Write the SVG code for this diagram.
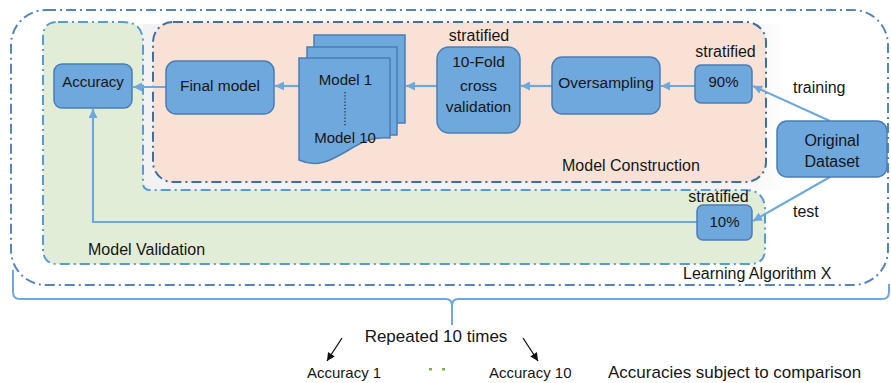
<svg xmlns="http://www.w3.org/2000/svg" width="891" height="383" viewBox="0 0 891 383">
  <defs>
    <style>
      .t { font-family: "Liberation Sans", Arial, sans-serif; fill: #161616; }
      .node { fill: #6FA8DC; stroke: #4A7EB5; stroke-width: 1.5; }
      .conn { fill: none; stroke: #6FA8DC; stroke-width: 2.2; marker-end: url(#ah); }
      .blk { fill: none; stroke: #111; stroke-width: 1.3; marker-end: url(#bh); }
      .dd { stroke-width: 2; stroke-dasharray: 10 4 2 4; }
    </style>
    <marker id="ah" viewBox="0 0 10 10" refX="10" refY="5" markerUnits="userSpaceOnUse" markerWidth="9" markerHeight="9" orient="auto">
      <path d="M0,0 L10,5 L0,10 Z" fill="#6FA8DC"/>
    </marker>
    <marker id="bh" viewBox="0 0 10 10" refX="10" refY="5" markerUnits="userSpaceOnUse" markerWidth="9" markerHeight="8" orient="auto">
      <path d="M0,0 L10,5 L0,10 Z" fill="#111"/>
    </marker>
    <linearGradient id="gr" x1="0" y1="0" x2="1" y2="0">
      <stop offset="0" stop-color="#f2f2f2"/>
      <stop offset="0.9" stop-color="#f2f2f2"/>
      <stop offset="1" stop-color="#ffffff"/>
    </linearGradient>
  </defs>

  <rect width="891" height="383" fill="#ffffff"/>

  <!-- Learning Algorithm X container -->
  <g id="learning-algorithm">
    <rect x="11" y="10" width="877" height="275" rx="35" fill="#ffffff" stroke="#5585BC" class="dd"/>
    <text class="t" x="683" y="279" font-size="16" fill="#333">Learning Algorithm X</text>
  </g>

  <!-- Model Validation container -->
  <g id="model-validation">
    <path d="M143,24 H790 V190 H143 Z" fill="url(#gr)"/>
    <path d="M58,22 H123 Q143,22 143,42 V183 Q143,190 150,190 H745 Q765,190 765,210 V249 Q765,264 750,264 H58 Q43,264 43,249 V37 Q43,22 58,22 Z" fill="#E2EDD8" stroke="#5B9BD5" class="dd"/>
    <text class="t" x="88" y="255" font-size="16" fill="#2b2b2b">Model Validation</text>
  </g>

  <!-- Model Construction container -->
  <g id="model-construction">
    <rect x="153" y="22" width="613" height="160" rx="20" fill="#F9E2D5" stroke="#3E6F9F" class="dd"/>
    <text class="t" x="562" y="171" font-size="16">Model Construction</text>
  </g>

  <!-- connectors -->
  <g id="connectors">
    <path class="conn" d="M830,121 L753,86"/>
    <path class="conn" d="M830,177 L753,221"/>
    <path class="conn" d="M695,86 H661"/>
    <path class="conn" d="M552,86 H521"/>
    <path class="conn" d="M437,86 H406"/>
    <path class="conn" d="M299,86 H275"/>
    <path class="conn" d="M166,87 H133"/>
    <path class="conn" d="M697,222 H93 V109"/>
    <path class="blk" d="M342,338 L327,361"/>
    <path class="blk" d="M523,338 L538,361"/>
  </g>

  <g id="accuracy">
    <rect class="node" x="54" y="64" width="78" height="44" rx="8"/>
    <text class="t" x="93" y="87" font-size="15" text-anchor="middle">Accuracy</text>
  </g>

  <g id="final-model">
    <rect class="node" x="166" y="61" width="108" height="53" rx="10"/>
    <text class="t" x="220" y="91" font-size="15.5" text-anchor="middle">Final model</text>
  </g>

  <g id="models">
    <rect class="node" x="314" y="35" width="91" height="88"/>
    <rect class="node" x="307" y="47" width="90" height="88"/>
    <path class="node" d="M299,58 H390 V138 C372,136 360,143 347,151 C333,159 318,169 299,160 Z"/>
    <text class="t" x="345.5" y="85" font-size="15" text-anchor="middle">Model 1</text>
    <line x1="345" y1="92" x2="345" y2="127" stroke="#222" stroke-width="1.2" stroke-dasharray="1.2 2"/>
    <text class="t" x="345" y="143" font-size="15" text-anchor="middle">Model 10</text>
  </g>

  <g id="cross-validation">
    <text class="t" x="479" y="41" font-size="16" text-anchor="middle">stratified</text>
    <rect class="node" x="437" y="47" width="83" height="86" rx="12"/>
    <text class="t" x="478.5" y="67" font-size="15.5" text-anchor="middle">10-Fold</text>
    <text class="t" x="478.5" y="91" font-size="15.5" text-anchor="middle">cross</text>
    <text class="t" x="478.5" y="112" font-size="15.5" text-anchor="middle">validation</text>
  </g>

  <g id="oversampling">
    <rect class="node" x="552" y="57" width="108" height="57" rx="10"/>
    <text class="t" x="606" y="88" font-size="15.5" text-anchor="middle">Oversampling</text>
  </g>

  <g id="train-90">
    <text class="t" x="725.5" y="57" font-size="16" text-anchor="middle">stratified</text>
    <rect class="node" x="695" y="65" width="57" height="38" rx="6"/>
    <text class="t" x="723.5" y="87" font-size="15" text-anchor="middle">90%</text>
  </g>

  <g id="test-10">
    <text class="t" x="718.5" y="202" font-size="16" text-anchor="middle">stratified</text>
    <rect class="node" x="697" y="205" width="55" height="35" rx="6"/>
    <text class="t" x="724.5" y="227" font-size="15" text-anchor="middle">10%</text>
  </g>

  <g id="original-dataset">
    <rect class="node" x="777" y="121" width="110" height="56" rx="10"/>
    <text class="t" x="832" y="146" font-size="16" text-anchor="middle">Original</text>
    <text class="t" x="832" y="167" font-size="16" text-anchor="middle">Dataset</text>
  </g>

  <g id="edge-labels">
    <text class="t" x="793" y="93" font-size="16">training</text>
    <text class="t" x="793" y="217" font-size="16">test</text>
  </g>

  <!-- repetition bracket and results -->
  <g id="repetition">
    <path d="M13,270 V292 Q13,299 20,299 H446 Q452,299 452,306 V325 M452,306 Q452,299 458,299 H882 Q889,299 889,292 V284" fill="none" stroke="#6FA8DC" stroke-width="2"/>
    <text class="t" x="436" y="342" font-size="17" text-anchor="middle">Repeated 10 times</text>
    <text class="t" x="307" y="378" font-size="15">Accuracy 1</text>
    <rect x="429" y="368" width="3" height="2.5" fill="#7DB04A"/>
    <rect x="442" y="368" width="3" height="2.5" fill="#7DB04A"/>
    <text class="t" x="489" y="378" font-size="15">Accuracy 10</text>
    <text class="t" x="608" y="378" font-size="17">Accuracies subject to comparison</text>
  </g>
</svg>
